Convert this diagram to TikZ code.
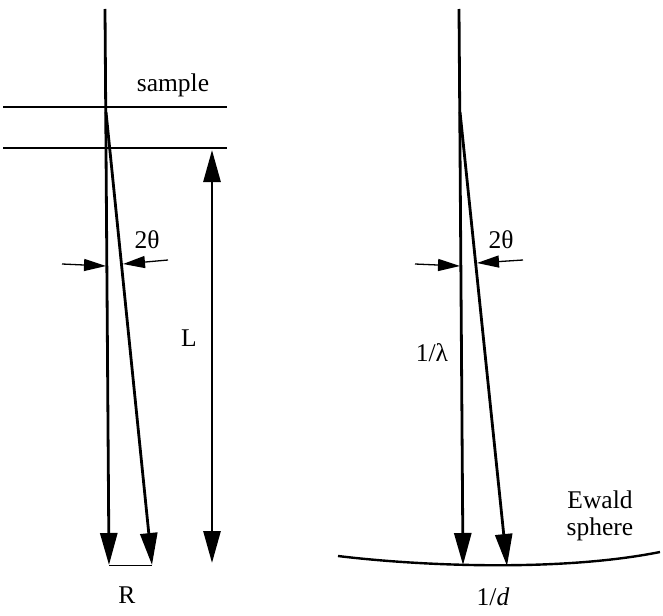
\documentclass[tikz,border=0pt]{standalone}
\usepackage{fontspec}
\setmainfont{Liberation Serif}
\usetikzlibrary{arrows.meta, positioning}

\begin{document}
\begin{tikzpicture}[x=1pt, y=-1pt,
		beam/.style={line width=2.8pt},
		bigtip/.style={-{Triangle[length=32pt, width=17pt]}},
		smalltip/.style={line width=1.3pt, -{Triangle[length=22pt, width=12pt]}},
		lbl/.style={font=\fontsize{25.5}{27}\selectfont, inner sep=0pt}]
	\useasboundingbox (0,0) rectangle (663,615);
	% left: real space
	\coordinate (srcA) at (105,9);
	\coordinate (hitA) at (106,112);
	\coordinate (endA) at (109,565);
	\coordinate (difA) at (152,565);
	\draw[line width=1.2pt] (3,107) coordinate (sa1) -- (227,107) coordinate (sa2);
	\draw[line width=1.2pt] (3,148) coordinate (sb1) -- (227,148) coordinate (sb2);
	\node[lbl] (sample) at (173,85) {sample};
	\draw[beam, bigtip] (srcA) -- (endA);
	\draw[beam, bigtip] (hitA) -- (difA);
	\draw[line width=1pt] (endA) -- (difA);
	\node[lbl] (R) at (127,595) {R};
	\coordinate (Ltop) at (212,150);
	\coordinate (Lbot) at (212,563);
	\draw[beam, {Triangle[length=32pt, width=17pt]}-{Triangle[length=32pt, width=17pt]}] (Lbot) -- (Ltop);
	\node[lbl] (L) at (189,338) {L};
	\draw[smalltip] (62,264) coordinate (pA1) -- (106,266) coordinate (qA1);
	\draw[smalltip] (168,260) coordinate (pA2) -- (123,264) coordinate (qA2);
	\node[lbl] (thetaA) at (147,240) {2θ};
	% right: reciprocal space
	\coordinate (srcB) at (459,9);
	\coordinate (hitB) at (460,112);
	\coordinate (endB) at (463,565);
	\coordinate (difB) at (507,566);
	\draw[beam, bigtip] (srcB) -- (endB);
	\draw[beam, bigtip] (hitB) -- (difB);
	\draw[smalltip] (415,264) coordinate (pB1) -- (460,266) coordinate (qB1);
	\draw[smalltip] (523,260) coordinate (pB2) -- (477,263) coordinate (qB2);
	\node[lbl] (thetaB) at (501,240) {2θ};
	\node[lbl] (lambda) at (432,353) {1/λ};
	\coordinate (ewL) at (338,556);
	\coordinate (ewR) at (660,552);
	\draw[line width=2.4pt] (ewL) .. controls (420,566) and (560,572) .. (ewR);
	\node[lbl, align=center] (ewald) at (600,516) {Ewald\\sphere};
	\node[lbl] (invd) at (493,597) {1/\textit{d}};
\end{tikzpicture}
\end{document}
